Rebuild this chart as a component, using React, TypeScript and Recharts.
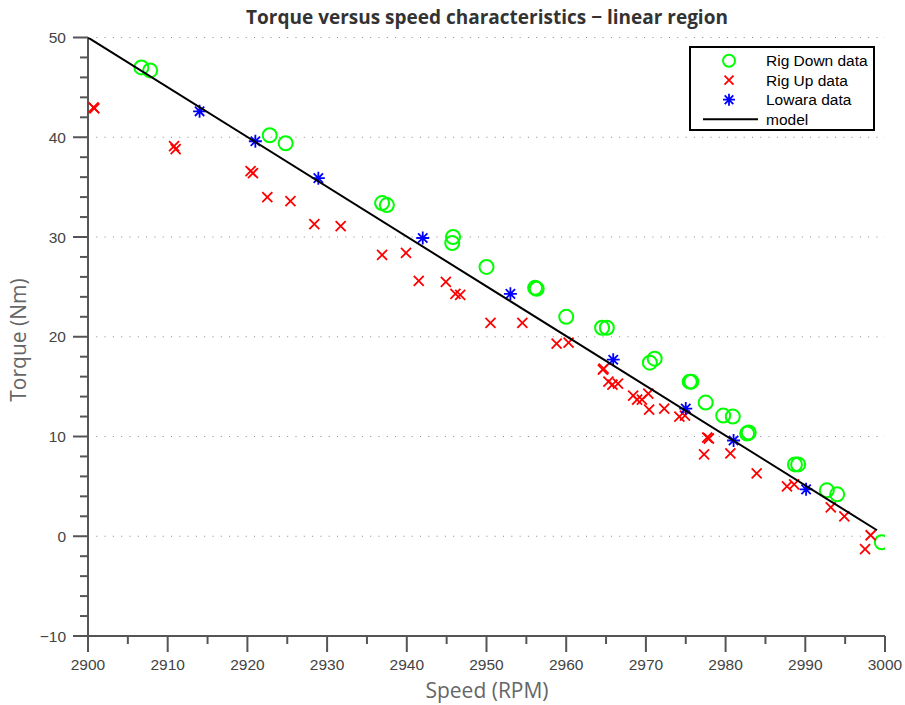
import { ScatterChart, Scatter, XAxis, YAxis, ReferenceLine, Legend, Label } from 'recharts';

// speeds (RPM) and torques (Nm)
const rigDownSpeed = [2906.7, 2907.8, 2922.8, 2924.8, 2936.9, 2937.5, 2945.8, 2945.7, 2950.0, 2956.1, 2956.3, 2960.0, 2964.5, 2965.1, 2970.5, 2971.1, 2975.5, 2975.7, 2977.5, 2979.7, 2980.9, 2982.7, 2982.9, 2988.7, 2989.1, 2992.7, 2994.0, 2999.6];
const rigDownTorque = [47.0, 46.7, 40.2, 39.4, 33.4, 33.2, 30.0, 29.4, 27.0, 24.9, 24.8, 22.0, 20.9, 20.9, 17.4, 17.8, 15.5, 15.5, 13.4, 12.1, 12.0, 10.3, 10.4, 7.2, 7.2, 4.6, 4.2, -0.6];

const rigUpSpeed = [2900.7, 2900.8, 2910.8, 2911.0, 2920.4, 2920.7, 2922.5, 2925.4, 2928.4, 2931.7, 2936.9, 2939.9, 2941.5, 2944.9, 2946.1, 2946.7, 2950.5, 2954.5, 2958.8, 2960.3, 2964.6, 2964.7, 2965.3, 2965.8, 2966.5, 2968.4, 2968.9, 2969.5, 2970.3, 2970.4, 2972.3, 2974.2, 2974.9, 2977.7, 2977.9, 2977.3, 2980.6, 2983.9, 2987.7, 2988.6, 2993.2, 2994.9, 2998.2, 2997.5];
const rigUpTorque = [43.0, 42.9, 39.1, 38.8, 36.6, 36.4, 34.0, 33.6, 31.3, 31.1, 28.2, 28.4, 25.6, 25.5, 24.3, 24.2, 21.4, 21.4, 19.3, 19.4, 16.7, 16.8, 15.5, 15.2, 15.3, 14.1, 13.7, 13.7, 14.3, 12.7, 12.8, 12.0, 12.1, 9.9, 9.8, 8.2, 8.3, 6.3, 5.0, 5.2, 2.9, 2.0, 0.1, -1.3];

const lowaraSpeed = [2914.0, 2921.0, 2928.9, 2942.0, 2953.0, 2965.9, 2975.0, 2981.0, 2990.1];
const lowaraTorque = [42.6, 39.6, 35.9, 29.9, 24.3, 17.7, 12.8, 9.6, 4.7];

const modelSpeed = [2900, 2999];
const modelTorque = [50, 0.6];

const xTicks = [2900, 2905, 2910, 2915, 2920, 2925, 2930, 2935, 2940, 2945, 2950, 2955, 2960, 2965, 2970, 2975, 2980, 2985, 2990, 2995, 3000];
const yTicks = [-10, -8, -6, -4, -2, 0, 2, 4, 6, 8, 10, 12, 14, 16, 18, 20, 22, 24, 26, 28, 30, 32, 34, 36, 38, 40, 42, 44, 46, 48, 50];
const gridLevels = [0, 10, 20, 30, 40, 50];

const pts = (xs: number[], ys: number[]) => xs.map((x, i) => ({ speed: x, torque: ys[i] }));

const AXIS = '#555';
const tickFont = '"Liberation Sans", Arial, sans-serif';
const labelFont = '"Open Sans", sans-serif';

function Ring({ cx, cy, r = 7 }: any) {
  return <circle cx={cx} cy={cy} r={r} fill="none" stroke="#00ff00" strokeWidth={2} />;
}

function Cross({ cx, cy, d = 5 }: any) {
  return (
    <path
      d={`M${cx - d},${cy - d}L${cx + d},${cy + d}M${cx - d},${cy + d}L${cx + d},${cy - d}`}
      stroke="#ff0000"
      strokeWidth={1.8}
      fill="none"
    />
  );
}

function Star({ cx, cy, d = 6.5 }: any) {
  const e = d * 0.72;
  return (
    <path
      d={`M${cx - d},${cy}L${cx + d},${cy}M${cx},${cy - d}L${cx},${cy + d}M${cx - e},${cy - e}L${cx + e},${cy + e}M${cx - e},${cy + e}L${cx + e},${cy - e}`}
      stroke="#0000ff"
      strokeWidth={1.8}
      fill="none"
    />
  );
}

const fmt = (v: number) => (v < 0 ? '\u2212' + Math.abs(v) : String(v));

function XTick({ x, y, payload }: any) {
  const major = payload.value % 10 === 0;
  return (
    <g>
      <line x1={x} x2={x} y1={y} y2={y + (major ? 16 : 8)} stroke={AXIS} strokeWidth={2} />
      {major && (
        <text x={x} y={y + 34} textAnchor="middle" fontSize={15.5} fontFamily={tickFont} fill="#444">
          {fmt(payload.value)}
        </text>
      )}
    </g>
  );
}

function YTick({ x, y, payload }: any) {
  const major = payload.value % 10 === 0;
  return (
    <g>
      <line x1={x} x2={x - (major ? 15 : 8)} y1={y} y2={y} stroke={AXIS} strokeWidth={2} />
      {major && (
        <text x={x - 22} y={y + 5.6} textAnchor="end" fontSize={15.5} fontFamily={tickFont} fill="#444">
          {fmt(payload.value)}
        </text>
      )}
    </g>
  );
}

const legendRows = [
  { name: 'Rig Down data', mark: 'ring' },
  { name: 'Rig Up data', mark: 'cross' },
  { name: 'Lowara data', mark: 'star' },
  { name: 'model', mark: 'line' },
];

function LegendBox() {
  return (
    <svg width={186} height={85}>
      <rect x={1} y={1} width={184} height={83} fill="#fff" stroke="#000" strokeWidth={2} />
      {legendRows.map((r, i) => {
        const cy = 14.7 + i * 19.5;
        return (
          <g key={r.name}>
            {r.mark === 'ring' && <Ring cx={40} cy={cy} r={6} />}
            {r.mark === 'cross' && <Cross cx={40} cy={cy} d={4.5} />}
            {r.mark === 'star' && <Star cx={40} cy={cy} d={6} />}
            {r.mark === 'line' && <line x1={14} x2={69} y1={cy} y2={cy} stroke="#000" strokeWidth={2} />}
            <text x={77} y={cy + 5.5} fontSize={15.5} fontFamily={tickFont} fill="#000">
              {r.name}
            </text>
          </g>
        );
      })}
    </svg>
  );
}

export default function App() {
  return (
    <div style={{ position: 'relative', width: 905, height: 705, background: '#fff' }}>
      <style>{'body{margin:0;}'}</style>
      <div
        style={{
          position: 'absolute',
          left: 187,
          top: 5,
          width: 600,
          textAlign: 'center',
          fontFamily: labelFont,
          fontWeight: 700,
          fontSize: 19,
          color: '#333',
          lineHeight: '24px',
          whiteSpace: 'nowrap',
        }}
      >
        Torque versus speed characteristics {'\u2212'} linear region
      </div>
      <ScatterChart width={905} height={705} margin={{ top: 37.5, right: 20, bottom: 0, left: 0 }}>
        {gridLevels.map((v) => (
          <ReferenceLine key={v} y={v} stroke="#888" strokeWidth={1} strokeDasharray="1 7.3" />
        ))}
        <XAxis
          type="number"
          dataKey="speed"
          domain={[2900, 3000]}
          ticks={xTicks}
          interval={0}
          height={69}
          tickSize={0}
          tickMargin={0}
          tickLine={false}
          axisLine={{ stroke: AXIS, strokeWidth: 2 }}
          tick={<XTick />}
          allowDataOverflow
        >
          <Label
            content={() => (
              <text x={487} y={698} textAnchor="middle" fontSize={21} fontFamily={labelFont} fill="#666">
                Speed (RPM)
              </text>
            )}
          />
        </XAxis>
        <YAxis
          type="number"
          dataKey="torque"
          domain={[-10, 50]}
          ticks={yTicks}
          interval={0}
          width={88}
          tickSize={0}
          tickMargin={0}
          tickLine={false}
          axisLine={{ stroke: AXIS, strokeWidth: 2 }}
          tick={<YTick />}
          allowDataOverflow
        >
          <Label
            content={() => (
              <text
                x={26}
                y={340}
                transform="rotate(-90 26 340)"
                textAnchor="middle"
                fontSize={21}
                fontFamily={labelFont}
                fill="#666"
              >
                Torque (Nm)
              </text>
            )}
          />
        </YAxis>
        <Scatter name="Rig Down data" data={pts(rigDownSpeed, rigDownTorque)} shape={<Ring />} isAnimationActive={false} />
        <Scatter name="Rig Up data" data={pts(rigUpSpeed, rigUpTorque)} shape={<Cross />} isAnimationActive={false} />
        <Scatter name="Lowara data" data={pts(lowaraSpeed, lowaraTorque)} shape={<Star />} isAnimationActive={false} />
        <Scatter
          name="model"
          data={pts(modelSpeed, modelTorque)}
          line={{ stroke: '#000', strokeWidth: 2 }}
          shape={() => <g />}
          isAnimationActive={false}
        />
        <Legend
          layout="vertical"
          align="center"
          verticalAlign="middle"
          content={() => <LegendBox />}
          wrapperStyle={{ left: 689, top: 46, width: 186, height: 85 }}
        />
      </ScatterChart>
    </div>
  );
}
